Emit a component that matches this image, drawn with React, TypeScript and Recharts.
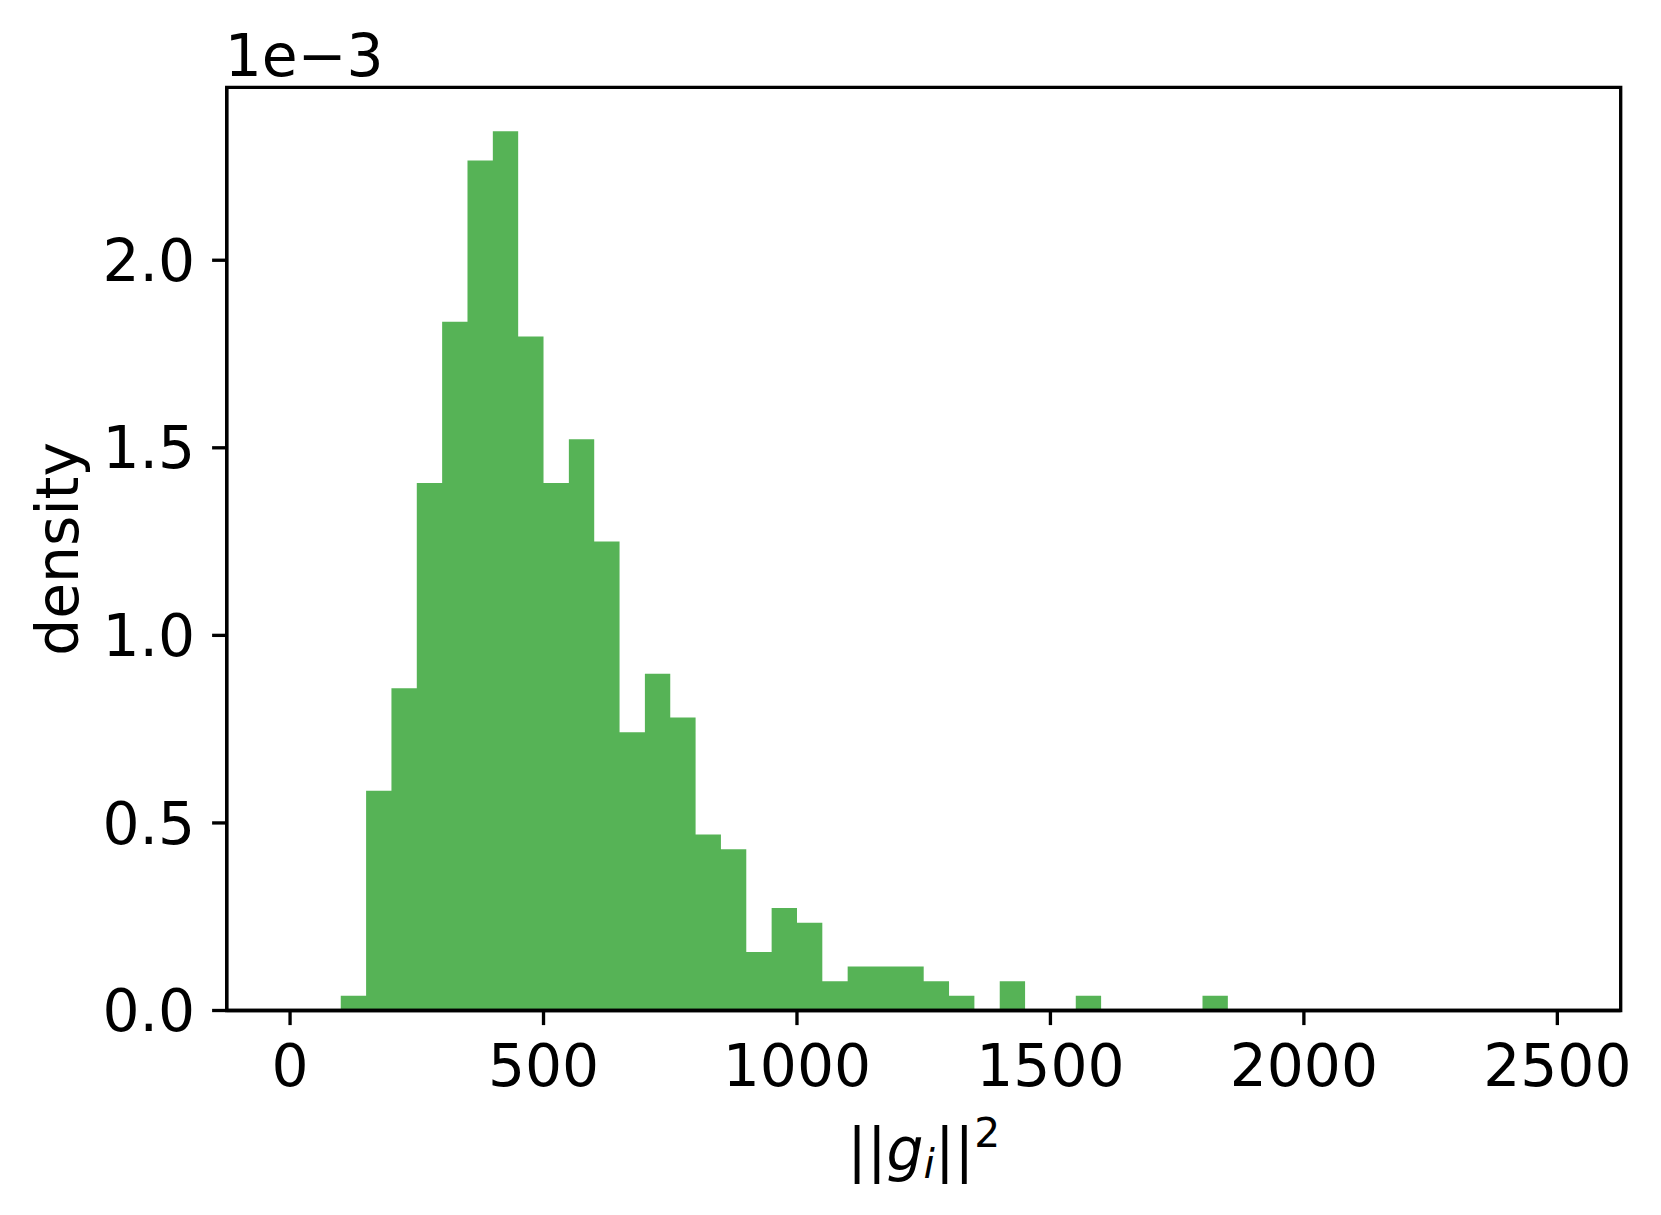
import { AreaChart, Area, XAxis, YAxis, Label, ReferenceArea } from 'recharts'

// histogram of squared gradient norms, 50 bins of width 50 on [0, 2500]
const binEdges = [
  0, 50, 100, 150, 200, 250, 300, 350, 400, 450,
  500, 550, 600, 650, 700, 750, 800, 850, 900, 950,
  1000, 1050, 1100, 1150, 1200, 1250, 1300, 1350, 1400, 1450,
  1500, 1550, 1600, 1650, 1700, 1750, 1800, 1850, 1900, 1950,
  2000, 2050, 2100, 2150, 2200, 2250, 2300, 2350, 2400, 2450,
  2500,
]

// density per bin, in units of 1e-3
const density = [
  0, 0, 0.039, 0.586, 0.859, 1.406, 1.836, 2.266, 2.344, 1.797,
  1.406, 1.523, 1.25, 0.742, 0.898, 0.781, 0.469, 0.43, 0.156, 0.273,
  0.234, 0.078, 0.117, 0.117, 0.117, 0.078, 0.039, 0, 0.078, 0,
  0, 0.039, 0, 0, 0, 0, 0.039, 0, 0, 0,
  0, 0, 0, 0, 0, 0, 0, 0, 0, 0,
]

const xTicks = [0, 500, 1000, 1500, 2000, 2500]
const yTicks = [0, 0.5, 1.0, 1.5, 2.0]
const xDomain = [-125, 2625]
const yDomain = [0, 2.461]

const GREEN = '#2ca02c'
const INK = '#000000'
const FONT = 'DejaVu Sans'
const FS = 58.3
const LW = 3.33

const W = 1661
const H = 1215
const LEFT = 226.7
const TOP = 87.3
const RIGHT = 1620.7
const BOTTOM = 1010.5

const chartData = binEdges.map((x, i) => ({ x, d: i < density.length ? density[i] : 0 }))

const tickStyle = { fontSize: FS, fill: INK, fontFamily: FONT }

export default function App() {
  return (
    <div style={{ position: 'absolute', left: 0, top: 0, width: W, height: H, background: '#fff' }}>
      <AreaChart
        width={W}
        height={H}
        data={chartData}
        margin={{ top: TOP, right: W - RIGHT, left: 0, bottom: 0 }}
      >
        <XAxis
          dataKey="x"
          type="number"
          domain={xDomain}
          allowDataOverflow
          ticks={xTicks}
          tick={tickStyle}
          tickSize={14.6}
          tickMargin={20}
          tickLine={{ stroke: INK, strokeWidth: LW }}
          axisLine={{ stroke: INK, strokeWidth: LW }}
          height={H - BOTTOM}
          interval={0}
        >
          <Label
            content={(props: any) => {
              const vb = props.viewBox || {}
              const cx = vb.x + vb.width / 2
              const by = vb.y + 159.5
              return (
                <text x={cx} y={by} textAnchor="middle" fontFamily={FONT} fontSize={FS} fill={INK}>
                  <tspan>||</tspan>
                  <tspan fontStyle="italic">g</tspan>
                  <tspan fontStyle="italic" fontSize={FS * 0.7} dy={8}>i</tspan>
                  <tspan dy={-8}>||</tspan>
                  <tspan fontSize={FS * 0.7} dy={-23}>2</tspan>
                </text>
              )
            }}
          />
        </XAxis>
        <YAxis
          type="number"
          domain={yDomain}
          allowDataOverflow
          ticks={yTicks}
          tickFormatter={(v: number) => v.toFixed(1)}
          tick={tickStyle}
          tickSize={14.6}
          tickMargin={17}
          tickLine={{ stroke: INK, strokeWidth: LW }}
          axisLine={{ stroke: INK, strokeWidth: LW }}
          width={LEFT}
          interval={0}
        >
          <Label
            content={(props: any) => {
              const vb = props.viewBox || {}
              const cy = vb.y + vb.height / 2
              return (
                <g>
                  <text
                    x={78}
                    y={cy}
                    transform={`rotate(-90, 78, ${cy})`}
                    textAnchor="middle"
                    fontFamily={FONT}
                    fontSize={FS}
                    fill={INK}
                  >
                    density
                  </text>
                  <text x={vb.x + vb.width - 2} y={76} textAnchor="start" fontFamily={FONT} fontSize={FS} fill={INK}>
                    1e{'\u2212'}3
                  </text>
                </g>
              )
            }}
          />
        </YAxis>
        <Area
          type="stepAfter"
          dataKey="d"
          stroke="none"
          fill={GREEN}
          fillOpacity={0.8}
          isAnimationActive={false}
          dot={false}
          activeDot={false}
        />
        <ReferenceArea
          x1={xDomain[0]}
          x2={xDomain[1]}
          y1={yDomain[0]}
          y2={yDomain[1]}
          fill="none"
          fillOpacity={0}
          stroke={INK}
          strokeWidth={LW}
          strokeOpacity={1}
          ifOverflow="visible"
        />
      </AreaChart>
    </div>
  )
}
